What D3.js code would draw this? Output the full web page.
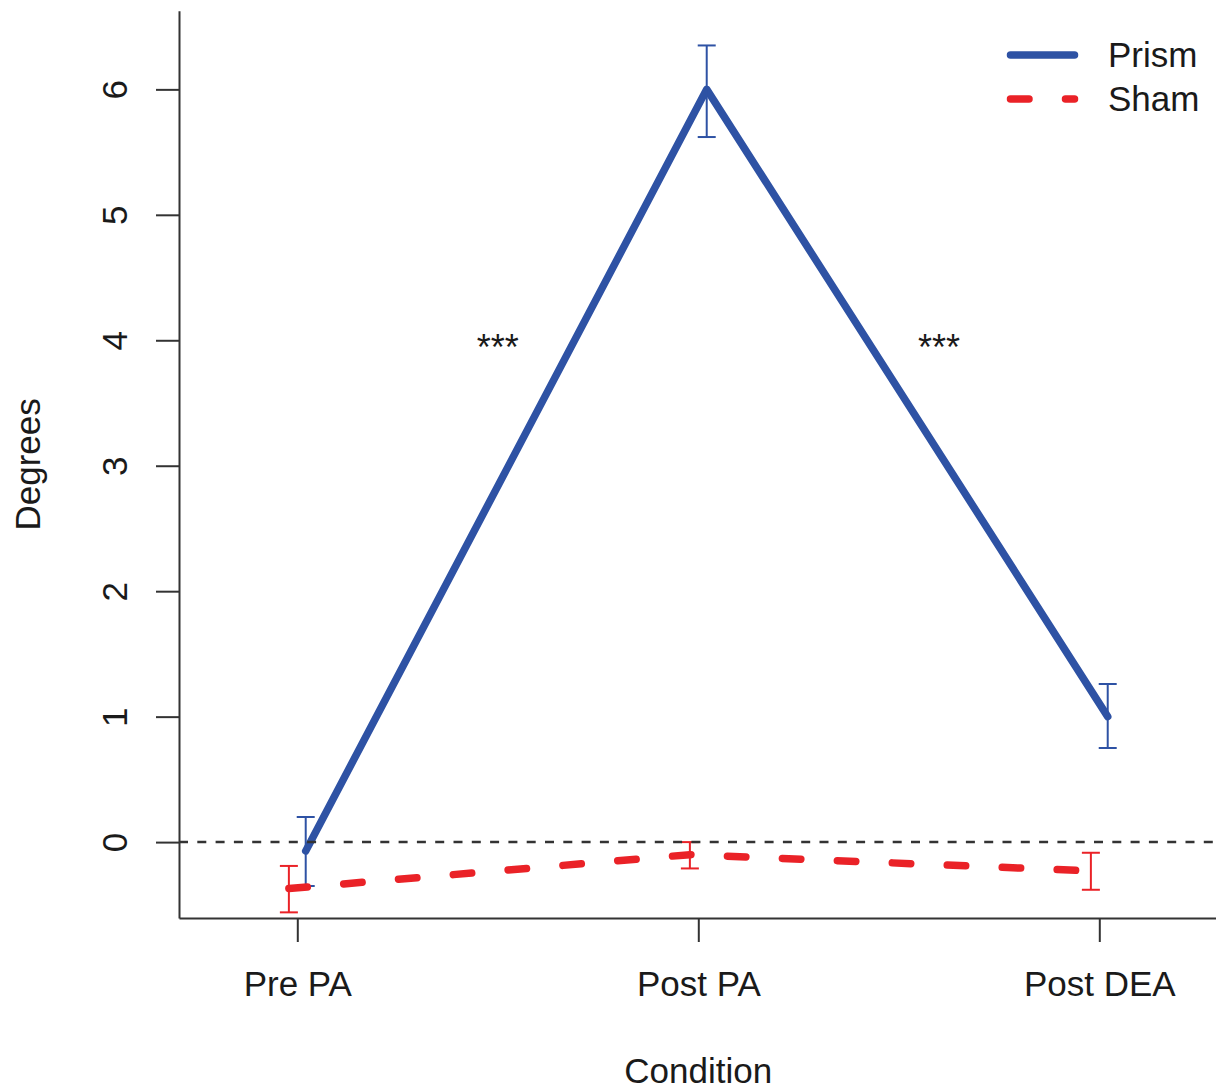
<!DOCTYPE html>
<html>
<head>
<meta charset="utf-8">
<script src="https://cdn.jsdelivr.net/npm/d3@7"></script>
<style>
  body { margin: 0; background: #fff; }
  svg text { font-family: "Liberation Sans", Arial, sans-serif; fill: #1a1a1a; }
</style>
</head>
<body>
<svg id="chart"></svg>
<script>
// data
const conditions = ["Pre PA", "Post PA", "Post DEA"];
const prismMean = [-0.07, 6.0, 1.0];
const prismUpper = [0.2, 6.35, 1.26];
const prismLower = [-0.35, 5.62, 0.75];
const shamMean = [-0.37, -0.1, -0.23];
const shamUpper = [-0.19, 0.0, -0.085];
const shamLower = [-0.56, -0.21, -0.38];
const yTicks = [0, 1, 2, 3, 4, 5, 6];
const legendLabels = ["Prism", "Sham"];
const starNotes = [{x: 1.5, y: 4, label: "***"}, {x: 2.6, y: 4, label: "***"}];

// layout
const width = 1216;
const height = 1092;
const blue = "#2e52a4";
const red = "#ea2227";
const dodge = 0.021;
const fontSize = "35px";

const svg = d3.select('#chart')
    .attr('width', width)
    .attr('height', height);

const x = d3.scaleLinear()
    .domain([0.705, 3.3])
    .range([179, 1219.6]);

const y = d3.scaleLinear()
    .domain([-0.605, 6.627])
    .range([918, 10.7]);

// series built from the arrays
const prism = conditions.map((c, i) => ({i: i + 1 + dodge, mean: prismMean[i], lo: prismLower[i], hi: prismUpper[i]}));
const sham = conditions.map((c, i) => ({i: i + 1 - dodge, mean: shamMean[i], lo: shamLower[i], hi: shamUpper[i]}));

const line = d3.line()
    .x(d => x(d.i))
    .y(d => y(d.mean));

function errorBars(data, colour) {
    const g = svg.append("g")
        .attr("stroke", colour)
        .attr("stroke-width", 2)
        .attr("fill", "none");
    g.selectAll("line.v")
        .data(data)
        .enter()
        .append("line")
        .attr("x1", d => x(d.i))
        .attr("x2", d => x(d.i))
        .attr("y1", d => y(d.lo))
        .attr("y2", d => y(d.hi));
    ["lo", "hi"].forEach(function(k) {
        g.selectAll("line.cap-" + k)
            .data(data)
            .enter()
            .append("line")
            .attr("x1", d => x(d.i) - 9)
            .attr("x2", d => x(d.i) + 9)
            .attr("y1", d => y(d[k]))
            .attr("y2", d => y(d[k]));
    });
}

// Prism line
svg.append("path")
    .datum(prism)
    .attr("d", line)
    .attr("fill", "none")
    .attr("stroke", blue)
    .attr("stroke-width", 7.5)
    .attr("stroke-linecap", "round")
    .attr("stroke-linejoin", "round");
errorBars(prism, blue);

// Sham line
svg.append("path")
    .datum(sham)
    .attr("d", line)
    .attr("fill", "none")
    .attr("stroke", red)
    .attr("stroke-width", 7.5)
    .attr("stroke-dasharray", "18.5,36.5")
    .attr("stroke-linecap", "round")
    .attr("stroke-linejoin", "round");
errorBars(sham, red);

// zero reference line
svg.append("line")
    .attr("x1", x.range()[0])
    .attr("x2", width)
    .attr("y1", y(0))
    .attr("y2", y(0))
    .attr("stroke", "#333")
    .attr("stroke-width", 2.5)
    .attr("stroke-dasharray", "9,9.3");

// Y axis
svg.append("g")
    .attr("transform", "translate(" + x.range()[0] + ",0)")
    .call(d3.axisLeft(y).tickValues(yTicks).tickFormat(d3.format("d")).tickSizeInner(23).tickSizeOuter(0).tickPadding(0))
    .call(g => g.select(".domain").attr("stroke", "#333").attr("stroke-width", 2))
    .call(g => g.selectAll(".tick line").attr("stroke", "#333").attr("stroke-width", 2))
    .call(g => g.selectAll(".tick text")
        .attr("transform", "rotate(-90)")
        .attr("x", 0)
        .attr("y", -52)
        .attr("dy", 0)
        .attr("text-anchor", "middle")
        .style("font-size", fontSize)
        .attr("fill", "#1a1a1a"));

// X axis
svg.append("g")
    .attr("transform", "translate(0," + y.range()[0] + ")")
    .call(d3.axisBottom(x).tickValues([1, 2, 3]).tickFormat(d => conditions[d - 1]).tickSizeInner(24).tickSizeOuter(0))
    .call(g => g.select(".domain").attr("stroke", "#333").attr("stroke-width", 2))
    .call(g => g.selectAll(".tick line").attr("stroke", "#333").attr("stroke-width", 2))
    .call(g => g.selectAll(".tick text")
        .attr("y", 78)
        .attr("dy", 0)
        .style("font-size", fontSize)
        .attr("fill", "#1a1a1a"));

// axis titles
svg.append("text")
    .attr("x", x(2))
    .attr("y", 1083)
    .attr("text-anchor", "middle")
    .style("font-size", fontSize)
    .text("Condition");

svg.append("text")
    .attr("transform", "translate(40," + ((y.range()[0] + y.range()[1]) / 2) + ") rotate(-90)")
    .attr("text-anchor", "middle")
    .style("font-size", fontSize)
    .text("Degrees");

// significance stars
svg.selectAll("text.star")
    .data(starNotes)
    .enter()
    .append("text")
    .attr("class", "star")
    .attr("x", d => x(d.x))
    .attr("y", d => y(d.y) + 20)
    .attr("text-anchor", "middle")
    .style("font-size", "36px")
    .text(d => d.label);

// legend
const legend = svg.append("g");
const legendStyles = [
    {colour: blue, dash: null},
    {colour: red, dash: "18.5,36.5"}
];
legendLabels.forEach(function(label, i) {
    const ly = 55 + i * 44;
    legend.append("line")
        .attr("x1", 1010.5)
        .attr("x2", 1074.5)
        .attr("y1", ly)
        .attr("y2", ly)
        .attr("stroke", legendStyles[i].colour)
        .attr("stroke-width", 7.5)
        .attr("stroke-linecap", "round")
        .attr("stroke-dasharray", legendStyles[i].dash);
    legend.append("text")
        .attr("x", 1108)
        .attr("y", ly + 12)
        .style("font-size", fontSize)
        .text(label);
});
</script>
</body>
</html>
